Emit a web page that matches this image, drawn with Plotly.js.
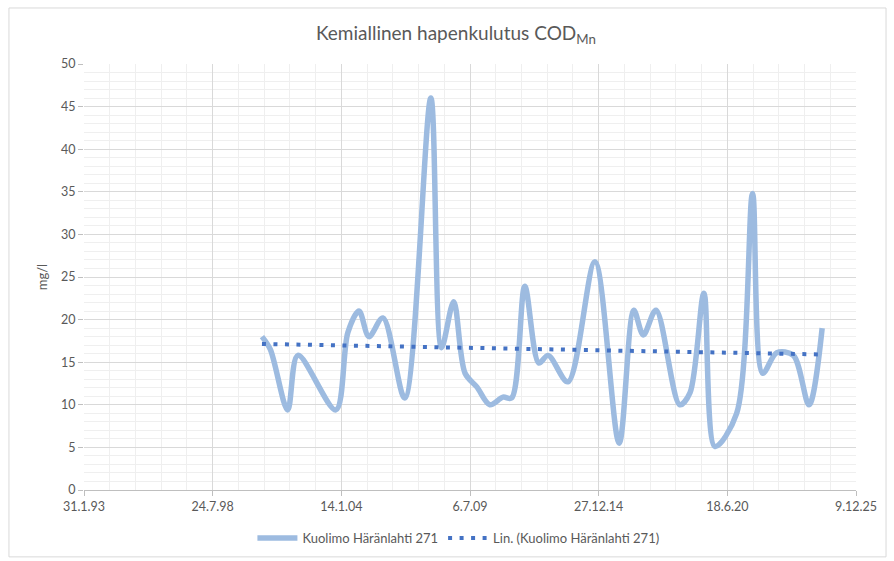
<!DOCTYPE html>
<html>
<head>
<meta charset="utf-8">
<script src="https://cdn.plot.ly/plotly-3.0.1.min.js"></script>
<style>html,body{margin:0;padding:0;background:#fff;}#chart{width:894px;height:561px;}</style>
</head>
<body>
<div id="chart"></div>
<script>
// Sample dates and COD_Mn values (mg/l)
const sampleDates = [
  '2000-08-28','2001-01-05','2001-10-01','2002-03-10','2003-10-20','2004-04-25',
  '2004-10-15','2005-03-18','2005-10-22','2006-09-25','2007-11-05','2008-04-20',
  '2008-10-25','2009-04-20','2009-10-20','2010-05-10','2010-12-01','2011-04-15',
  '2011-11-05','2012-06-10','2012-11-01','2013-09-05','2014-10-30','2015-11-10',
  '2016-06-25','2016-11-20','2017-06-05','2018-06-10','2018-11-15','2019-06-20',
  '2019-12-10','2020-11-10','2021-07-15','2021-12-20','2022-07-25','2023-04-10',
  '2023-12-10','2024-07-01'
];
const codValues = [
  18.0, 16.5, 9.4, 15.8, 9.4, 18.5,
  21.0, 18.0, 20.2, 10.8, 46.0, 16.7,
  22.1, 13.7, 12.1, 10.0, 10.9, 10.8,
  23.9, 14.9, 15.8, 12.7, 26.8, 5.5,
  21.1, 18.2, 21.1, 10.0, 11.4, 23.1,
  5.1, 9.0, 34.8, 13.7, 16.1, 15.8,
  10.0, 19.0
];
const xTickVals = ['1993-01-31','1998-07-24','2004-01-14','2009-07-06','2014-12-27','2020-06-18','2025-12-09'];
const xTickText = ['31.1.93','24.7.98','14.1.04','6.7.09','27.12.14','18.6.20','9.12.25'];
const seriesName = 'Kuolimo Häränlahti 271';
const trendName = 'Lin. (Kuolimo Häränlahti 271)';

// linear trend (least squares) over time
const tms = sampleDates.map(d => new Date(d + 'T00:00:00Z').getTime());
const n = tms.length;
const mx = tms.reduce((a,b)=>a+b,0)/n;
const my = codValues.reduce((a,b)=>a+b,0)/n;
let sxy = 0, sxx = 0;
for (let i=0;i<n;i++){ sxy += (tms[i]-mx)*(codValues[i]-my); sxx += (tms[i]-mx)*(tms[i]-mx); }
const slope = sxy/sxx, icpt = my - slope*mx;
const trendX = [sampleDates[0], sampleDates[n-1]];
const trendY = [icpt + slope*tms[0], icpt + slope*tms[n-1]];

const DAY = 86400000;
const font = 'Lato, "Open Sans", sans-serif';
const grey = '#595959';

const traces = [
  {x: sampleDates, y: codValues, type: 'scatter', mode: 'lines', name: seriesName,
   line: {color: '#9dbbe0', width: 5.5, shape: 'spline', smoothing: 0.9}},
  {x: trendX, y: trendY, type: 'scatter', mode: 'lines', name: trendName,
   line: {color: '#4472c4', width: 4, dash: '4px,7.5px'}}
];

const layout = {
  width: 894, height: 561,
  margin: {l: 84, r: 38, t: 64, b: 71, autoexpand: false},
  paper_bgcolor: '#fff', plot_bgcolor: '#fff',
  font: {family: font, color: grey, size: 12},
  title: {text: 'Kemiallinen hapenkulutus COD<sub>Mn</sub>', font: {family: font, size: 19, color: grey},
          x: 0.51, xanchor: 'center', y: 0.94, yanchor: 'middle'},
  showlegend: true,
  legend: {orientation: 'h', x: 0.485, xanchor: 'center', yref: 'container', y: 0.041, yanchor: 'middle',
           itemwidth: 40, font: {family: font, size: 13, color: grey}},
  xaxis: {
    type: 'date', range: ['1993-01-31', '2025-12-09'],
    tickmode: 'array', tickvals: xTickVals, ticktext: xTickText,
    showgrid: true, gridcolor: '#d9d9d9', gridwidth: 1,
    minor: {tickmode: 'linear', tick0: '1993-01-31', dtick: 400*DAY, showgrid: true, gridcolor: '#efefef', gridwidth: 1, ticks: ''},
    showline: true, linecolor: '#bfbfbf', linewidth: 1,
    ticks: 'outside', ticklen: 5, tickcolor: '#bfbfbf',
    tickfont: {family: font, size: 12.5, color: grey},
    zeroline: false, fixedrange: true
  },
  yaxis: {
    range: [0, 50], dtick: 5, tick0: 0,
    showgrid: true, gridcolor: '#d9d9d9', gridwidth: 1,
    minor: {dtick: 1, showgrid: true, gridcolor: '#efefef', gridwidth: 1, ticks: ''},
    showline: false,
    ticks: 'outside', ticklen: 5, tickcolor: '#bfbfbf',
    tickfont: {family: font, size: 12.5, color: grey},
    title: {text: 'mg/l', font: {family: font, size: 13, color: grey}, standoff: 10},
    zeroline: false, fixedrange: true
  },
  shapes: [
    {type: 'rect', xref: 'paper', yref: 'paper', x0: -0.0972, x1: 1.0389, y0: -0.157, y1: 1.1315,
     line: {color: '#d9d9d9', width: 1}, fillcolor: 'rgba(0,0,0,0)', layer: 'below'}
  ]
};

Plotly.newPlot('chart', traces, layout, {displayModeBar: false, staticPlot: true});
</script>
</body>
</html>
